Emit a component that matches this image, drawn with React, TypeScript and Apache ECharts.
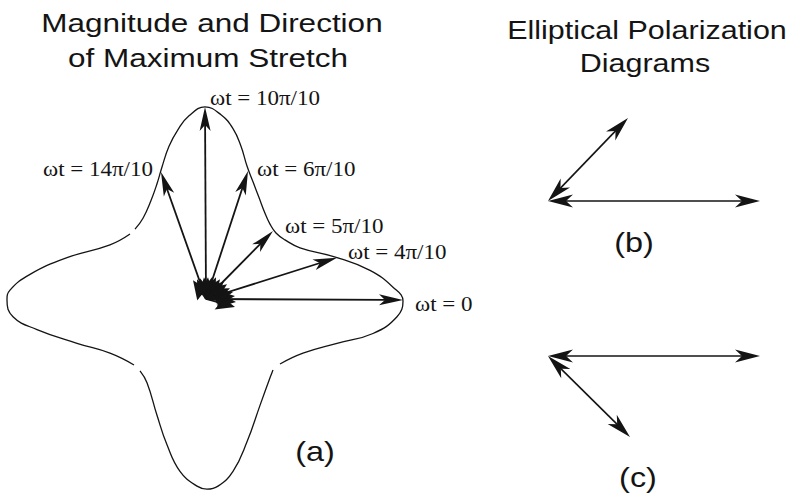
import React, { useEffect, useRef } from 'react';
import * as echarts from 'echarts';

const INK = '#141414';

// Outline of the maximum-stretch curve, drawn in three strokes
// (units about the common origin, y pointing up).
const UPPER_ARC: [number, number][] = [
  [-71, 71], [-63, 82], [-55, 100], [-49, 117], [-44, 134], [-37, 155], [-28, 172],
  [-17, 186], [-1, 195], [15, 187], [27, 173], [35, 155], [41, 135], [47, 119],
  [53, 103], [59, 87], [64, 76], [70, 67], [79, 60], [94, 52], [131, 42], [164, 29],
  [187, 12], [197, -2], [191, -18], [167, -35], [131, -45], [97, -55], [74, -66],
];
const LOWER_LOBE: [number, number][] = [
  [67, -72], [64, -80], [54, -108], [41, -145], [27, -175], [12, -190], [1, -193],
  [-9, -190], [-26, -175], [-39, -148], [-49, -118], [-59, -85], [-66, -73],
];
const LEFT_LOBE: [number, number][] = [
  [-72, -67], [-96, -55], [-129, -45], [-169, -31], [-193, -18], [-199, -1], [-196, 9],
  [-176, 25], [-139, 42], [-96, 55], [-76, 66],
];

// Maximum-stretch vectors at the labelled times
const STRETCH_LABELS = ['ωt = 0', 'ωt = 4π/10', 'ωt = 5π/10', 'ωt = 6π/10', 'ωt = 10π/10', 'ωt = 14π/10'];
const STRETCH_X = [197, 131, 67, 42, -1, -45];
const STRETCH_Y = [-1, 42, 69, 130, 195, 129];

// Short vectors bunched at the origin
const SHORT_X = [29, 30, 29, 27, 24, 21, 18, 14, 10, 6, 2, -2, -6, -9, -13];
const SHORT_Y = [-8, -3, 3, 7, 11, 15, 18, 20, 22, 22, 22, 22, 21, 20, 19];

// Polarization diagrams: the two axes of each
const DIAGRAM_B_X = [212, 80];
const DIAGRAM_B_Y = [0, 83];
const DIAGRAM_C_X = [212, 82];
const DIAGRAM_C_Y = [0, -81];

const LEFT_TITLE = ['Magnitude and Direction', 'of Maximum Stretch'];
const RIGHT_TITLE = ['Elliptical Polarization', 'Diagrams'];
const PANEL_NAMES = ['(a)', '(b)', '(c)'];

// Where each time label sits relative to its vector tip (pixels)
const LABEL_PLACE: { dx: number; dy: number; align: string }[] = [
  { dx: 12, dy: 5, align: 'left' },
  { dx: 11, dy: -5, align: 'left' },
  { dx: 12, dy: -5, align: 'left' },
  { dx: 9, dy: -1, align: 'left' },
  { dx: 5, dy: -8, align: 'left' },
  { dx: -8, dy: -2, align: 'right' },
];

const SANS = '"Liberation Sans", Arial, Helvetica, sans-serif';
const SERIF = '"Liberation Serif", "Times New Roman", serif';

type Head = { len: number; half: number; notch: number };

function headPolygon(tip: number[], ux: number, uy: number, h: Head) {
  const bx = tip[0] - ux * h.len;
  const by = tip[1] - uy * h.len;
  const px = -uy * h.half;
  const py = ux * h.half;
  return {
    type: 'polygon',
    shape: {
      points: [
        [tip[0], tip[1]],
        [bx + px, by + py],
        [tip[0] - ux * h.len * h.notch, tip[1] - uy * h.len * h.notch],
        [bx - px, by - py],
      ],
    },
    style: { fill: INK },
  };
}

function arrowParts(p0: number[], p1: number[], h: Head, width: number, both: boolean) {
  const dx = p1[0] - p0[0];
  const dy = p1[1] - p0[1];
  const d = Math.hypot(dx, dy) || 1;
  const ux = dx / d;
  const uy = dy / d;
  const cut = h.len * h.notch * 0.9;
  const s = both ? [p0[0] + ux * cut, p0[1] + uy * cut] : p0;
  const e = [p1[0] - ux * cut, p1[1] - uy * cut];
  const parts: any[] = [
    {
      type: 'line',
      shape: { x1: s[0], y1: s[1], x2: e[0], y2: e[1] },
      style: { stroke: INK, lineWidth: width },
    },
    headPolygon(p1, ux, uy, h),
  ];
  if (both) parts.push(headPolygon(p0, -ux, -uy, h));
  return parts;
}

function vectorSeries(
  gridIdx: number,
  xs: number[],
  ys: number[],
  head: Head,
  width: number,
  both: boolean,
  labels?: string[],
) {
  return {
    type: 'custom',
    xAxisIndex: gridIdx,
    yAxisIndex: gridIdx,
    silent: true,
    encode: { x: [0, 2], y: [1, 3] },
    data: xs.map((x, i) => [0, 0, x, ys[i]]),
    renderItem: (params: any, api: any) => {
      const p0 = api.coord([api.value(0), api.value(1)]);
      const p1 = api.coord([api.value(2), api.value(3)]);
      const children = arrowParts(p0, p1, head, width, both);
      if (labels) {
        const i = params.dataIndex;
        const pl = LABEL_PLACE[i];
        children.push({
          type: 'text',
          x: p1[0] + pl.dx,
          y: p1[1] + pl.dy,
          scaleX: 1.15,
          style: {
            text: labels[i],
            fontFamily: SERIF,
            fontSize: 20,
            fill: INK,
            align: pl.align,
            verticalAlign: 'middle',
          },
        });
      }
      return { type: 'group', children };
    },
  };
}

function outline(data: [number, number][]) {
  return {
    type: 'line',
    xAxisIndex: 0,
    yAxisIndex: 0,
    data,
    smooth: 0.45,
    symbol: 'none',
    silent: true,
    lineStyle: { color: INK, width: 1.3 },
  };
}

function heading(text: string, x: number, y: number, size: number, sx: number) {
  return {
    type: 'text',
    x,
    y,
    scaleX: sx,
    style: {
      text,
      fontFamily: SANS,
      fontSize: size,
      fill: INK,
      align: 'center',
      verticalAlign: 'middle',
    },
  };
}

export default function App() {
  const ref = useRef<HTMLDivElement>(null);

  useEffect(() => {
    if (!ref.current) return;
    const chart = echarts.init(ref.current, null, { renderer: 'svg' });
    const hidden = { show: false };
    chart.setOption({
      animation: false,
      backgroundColor: '#ffffff',
      grid: [
        { left: 6, top: 102, width: 400, height: 400 },
        { left: 548, top: 101, width: 220, height: 200 },
        { left: 548, top: 256, width: 220, height: 200 },
      ],
      xAxis: [
        { gridIndex: 0, type: 'value', min: -200, max: 200, ...hidden },
        { gridIndex: 1, type: 'value', min: 0, max: 220, ...hidden },
        { gridIndex: 2, type: 'value', min: 0, max: 220, ...hidden },
      ],
      yAxis: [
        { gridIndex: 0, type: 'value', min: -200, max: 200, ...hidden },
        { gridIndex: 1, type: 'value', min: -100, max: 100, ...hidden },
        { gridIndex: 2, type: 'value', min: -100, max: 100, ...hidden },
      ],
      series: [
        outline(UPPER_ARC),
        outline(LOWER_LOBE),
        outline(LEFT_LOBE),
        vectorSeries(0, SHORT_X, SHORT_Y, { len: 19, half: 8, notch: 0.78 }, 1.6, false),
        vectorSeries(0, STRETCH_X, STRETCH_Y, { len: 24, half: 5.5, notch: 0.75 }, 1.8, false, STRETCH_LABELS),
        vectorSeries(1, DIAGRAM_B_X, DIAGRAM_B_Y, { len: 25, half: 6.5, notch: 0.72 }, 1.6, true),
        vectorSeries(2, DIAGRAM_C_X, DIAGRAM_C_Y, { len: 25, half: 6.5, notch: 0.72 }, 1.6, true),
      ],
      graphic: [
        heading(LEFT_TITLE[0], 212, 23, 25, 1.26),
        heading(LEFT_TITLE[1], 208, 58, 25, 1.26),
        heading(RIGHT_TITLE[0], 647, 30, 25, 1.22),
        heading(RIGHT_TITLE[1], 645, 63.5, 25, 1.22),
        heading(PANEL_NAMES[0], 315, 451, 27, 1.2),
        heading(PANEL_NAMES[1], 634, 242, 27, 1.2),
        heading(PANEL_NAMES[2], 638, 477, 27, 1.2),
      ],
    });
    return () => chart.dispose();
  }, []);

  return (
    <div
      ref={ref}
      style={{ position: 'fixed', left: 0, top: 0, width: 789, height: 496, background: '#fff' }}
    />
  );
}
